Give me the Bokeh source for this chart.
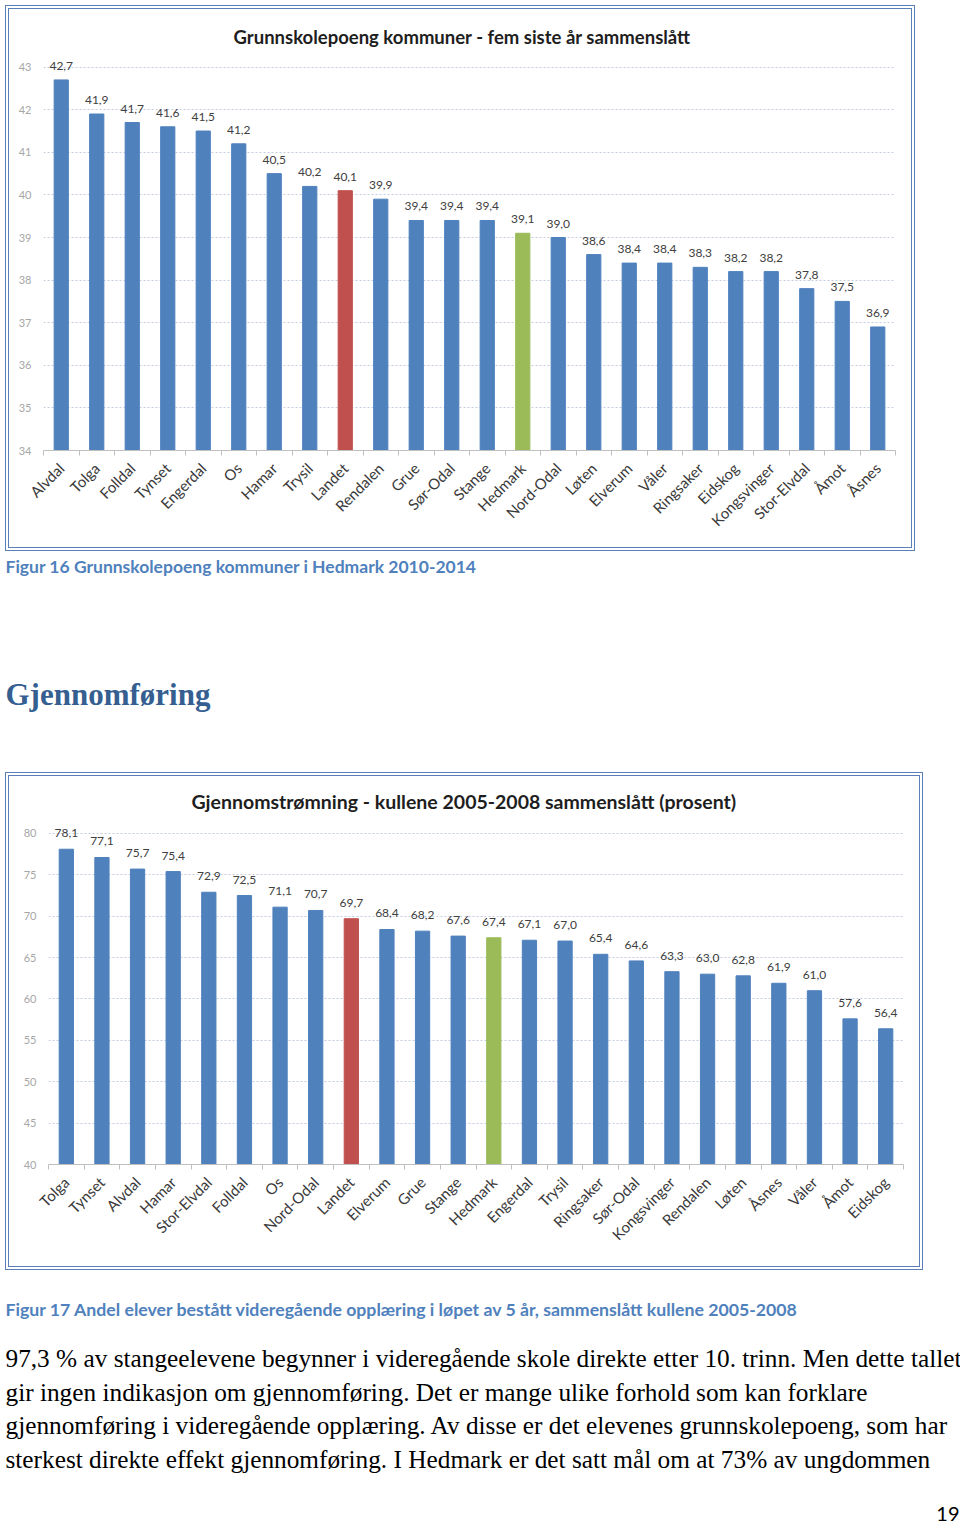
import numpy as np
from bokeh.plotting import figure
from bokeh.models import ColumnDataSource, FixedTicker, Range1d
from bokeh.layouts import column
from bokeh.core.properties import value
from bokeh.embed import file_html
from bokeh.resources import INLINE

# ---------------- data ----------------
kommuner1 = ["Alvdal", "Tolga", "Folldal", "Tynset", "Engerdal", "Os", "Hamar", "Trysil",
             "Landet", "Rendalen", "Grue", "Sør-Odal", "Stange", "Hedmark", "Nord-Odal",
             "Løten", "Elverum", "Våler", "Ringsaker", "Eidskog", "Kongsvinger",
             "Stor-Elvdal", "Åmot", "Åsnes"]
poeng1 = [42.7, 41.9, 41.7, 41.6, 41.5, 41.2, 40.5, 40.2, 40.1, 39.9, 39.4, 39.4, 39.4,
          39.1, 39.0, 38.6, 38.4, 38.4, 38.3, 38.2, 38.2, 37.8, 37.5, 36.9]
yticks1 = [34, 35, 36, 37, 38, 39, 40, 41, 42, 43]

kommuner2 = ["Tolga", "Tynset", "Alvdal", "Hamar", "Stor-Elvdal", "Folldal", "Os",
             "Nord-Odal", "Landet", "Elverum", "Grue", "Stange", "Hedmark", "Engerdal",
             "Trysil", "Ringsaker", "Sør-Odal", "Kongsvinger", "Rendalen", "Løten",
             "Åsnes", "Våler", "Åmot", "Eidskog"]
andel2 = [78.1, 77.1, 75.7, 75.4, 72.9, 72.5, 71.1, 70.7, 69.7, 68.4, 68.2, 67.6, 67.4,
          67.1, 67.0, 65.4, 64.6, 63.3, 63.0, 62.8, 61.9, 61.0, 57.6, 56.4]
yticks2 = [40, 45, 50, 55, 60, 65, 70, 75, 80]

title1 = "Grunnskolepoeng kommuner - fem siste år sammenslått"
title2 = "Gjennomstrømning - kullene 2005-2008 sammenslått (prosent)"
caption1 = "Figur 16 Grunnskolepoeng kommuner i Hedmark 2010-2014"
heading = "Gjennomføring"
caption2 = "Figur 17 Andel elever bestått videregående opplæring i løpet av 5 år, sammenslått kullene 2005-2008"
body_lines = [
    "97,3 % av stangeelevene begynner i videregående skole direkte etter 10. trinn. Men dette tallet",
    "gir ingen indikasjon om gjennomføring. Det er mange ulike forhold som kan forklare",
    "gjennomføring i videregående opplæring. Av disse er det elevenes grunnskolepoeng, som har",
    "sterkest direkte effekt gjennomføring. I Hedmark er det satt mål om at 73% av ungdommen",
]
page_number = "19"

BLUE = "#4F81BD"
RED = "#C0504D"
GREEN = "#9BBB59"
FRAME = {"border": "4px double #5b80b9"}


def bar_chart(names, vals, title, yticks, y_end, width, height,
              mb_left, mb_right, mb_top, mb_bottom, title_size, standoff, title_offset,
              label_offset, margin):
    n = len(names)
    xs = list(range(n))
    colors = [RED if nm == "Landet" else GREEN if nm == "Hedmark" else BLUE for nm in names]
    labels = [f"{v:.1f}".replace(".", ",") for v in vals]
    src = ColumnDataSource(dict(x=xs, top=vals, color=colors, label=labels))
    p = figure(width=width, height=height, x_range=Range1d(-0.5, n - 0.5),
               y_range=Range1d(yticks[0], y_end), output_backend="svg",
               toolbar_location=None, min_border_left=mb_left, min_border_right=mb_right,
               min_border_top=mb_top, min_border_bottom=mb_bottom, margin=margin,
               frame_align=False)
    p.styles = FRAME
    p.outline_line_color = None
    p.vbar(x="x", top="top", bottom=yticks[0], width=0.4, color="color", source=src)
    p.text(x="x", y="top", text="label", text_align="center", text_baseline="bottom",
           y_offset=label_offset, text_font=value("Lato"), text_font_size="12px",
           text_color="#404040", source=src)

    p.title.text = title
    p.title.align = "left"
    p.title.offset = title_offset
    p.title.text_font = "Lato"
    p.title.text_font_style = "bold"
    p.title.text_font_size = title_size
    p.title.text_color = "#1e1e1e"
    p.title.standoff = standoff

    p.xgrid.visible = False
    p.ygrid.ticker = FixedTicker(ticks=yticks)
    p.ygrid.grid_line_color = "#c3cde0"
    p.ygrid.grid_line_dash = "2 2"

    xa = p.xaxis[0]
    xa.ticker = FixedTicker(ticks=xs, minor_ticks=[i - 0.5 for i in range(n + 1)])
    xa.major_label_overrides = {i: nm for i, nm in enumerate(names)}
    xa.major_tick_line_color = None
    xa.major_tick_out = 0
    xa.major_tick_in = 0
    xa.minor_tick_line_color = "#bfbfbf"
    xa.minor_tick_out = 5
    xa.minor_tick_in = 0
    xa.axis_line_color = "#bfbfbf"
    xa.major_label_orientation = np.pi / 4
    xa.major_label_standoff = 10
    xa.major_label_text_font = "Lato"
    xa.major_label_text_font_size = "15px"
    xa.major_label_text_color = "#3a3a3a"

    ya = p.yaxis[0]
    ya.ticker = FixedTicker(ticks=yticks)
    ya.axis_line_color = None
    ya.major_tick_line_color = None
    ya.minor_tick_line_color = None
    ya.major_tick_out = 0
    ya.major_tick_in = 0
    ya.major_label_standoff = 12
    ya.major_label_text_font = "Lato"
    ya.major_label_text_font_size = "11px"
    ya.major_label_text_color = "#a6a6a6"
    return p


def text_panel(height):
    p = figure(width=960, height=height, x_range=Range1d(0, 960), y_range=Range1d(height, 0),
               output_backend="svg", toolbar_location=None, min_border=0,
               min_border_left=0, min_border_right=0, min_border_top=0, min_border_bottom=0,
               x_axis_type=None, y_axis_type=None, frame_align=False)
    p.grid.visible = False
    p.outline_line_color = None
    return p


p1 = bar_chart(kommuner1, poeng1, title1, yticks1, 43.25, 910, 546,
               34, 24, 47, 105, "18.5px", 17, 190, -10, (5, 0, 0, 5))
p2 = bar_chart(kommuner2, andel2, title2, yticks2, 81.45, 918, 498,
               39, 24, 45, 110, "19.5px", 17, 143, -12, (0, 0, 0, 5))

t1 = text_panel(221)
t1.text(x=[5], y=[15], text=[caption1], text_baseline="middle", text_font=value("Lato"),
        text_font_style="bold", text_font_size="17.5px", text_color="#4F81BD")
t1.text(x=[5], y=[143], text=[heading], text_baseline="middle",
        text_font=value("Liberation Serif"), text_font_style="bold",
        text_font_size="31px", text_color="#365F91")

t2 = text_panel(253)
t2.text(x=[5], y=[39], text=[caption2], text_baseline="middle", text_font=value("Lato"),
        text_font_style="bold", text_font_size="17.7px", text_color="#4F81BD")
t2.text(x=[5] * len(body_lines), y=[87, 121, 154, 188], text=body_lines,
        text_baseline="middle", text_font=value("Liberation Serif"),
        text_font_size="25.3px", text_color="#000000")
t2.text(x=[959], y=[243], text=[page_number], text_baseline="middle", text_align="right",
        text_font=value("Lato"), text_font_size="20px", text_color="#000000")

layout = column(p1, t1, p2, t2, spacing=0)
open("out.html", "w").write(file_html(layout, INLINE))
